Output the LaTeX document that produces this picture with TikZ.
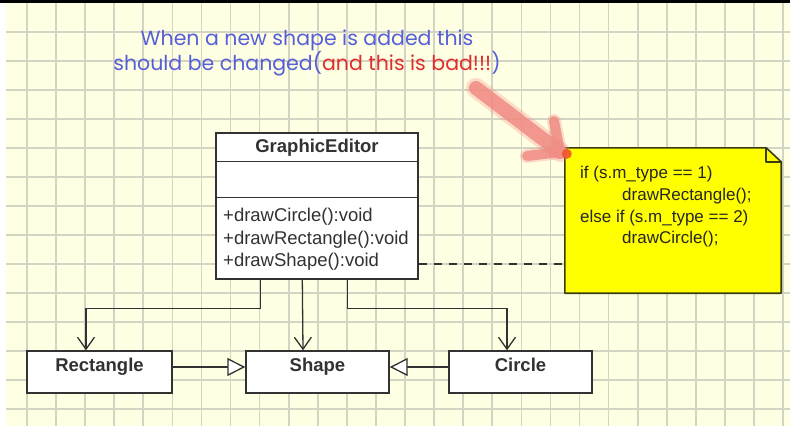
\documentclass[tikz,border=0pt]{standalone}
\usepackage{fontspec}
\setmainfont{Liberation Sans}
\newfontfamily\handfont{Poppins}
\usetikzlibrary{arrows.meta}
\definecolor{bgcol}{RGB}{255,255,228}
\definecolor{gridcol}{RGB}{212,212,196}
\definecolor{boxline}{RGB}{50,50,50}
\definecolor{noteyellow}{RGB}{255,255,0}
\definecolor{noteline}{RGB}{60,60,20}
\definecolor{txtblue}{RGB}{85,95,215}
\definecolor{txtred}{RGB}{225,45,45}
\definecolor{pinkarrow}{RGB}{240,140,132}
\definecolor{dotred}{RGB}{240,80,40}
\begin{document}
\begin{tikzpicture}[x=1pt,y=-1pt,
  gridline/.style={draw=gridcol,line width=1.7pt},
  classbox/.style={draw=boxline,fill=white,line width=1.4pt,inner sep=0pt},
  bold18/.style={font=\fontsize{18.5}{20}\selectfont\bfseries,text=boxline,inner sep=0pt,text height=13pt,text depth=4pt},
  meth/.style={font=\fontsize{18.5}{20}\selectfont,text=boxline,inner sep=0pt,anchor=west,text height=13pt,text depth=4pt},
  notetxt/.style={font=\fontsize{17}{19}\selectfont,text=black!85,inner sep=0pt,anchor=west,text height=12pt,text depth=4pt},
  dep/.style={draw=boxline,line width=1.3pt,-{Straight Barb[length=12pt,width=17pt]}},
  gen/.style={draw=boxline,line width=1.3pt,-{Triangle[length=18pt,width=18pt,fill=white]}},
  anchorline/.style={draw=boxline,line width=1.3pt,dash pattern=on 8pt off 7pt},
  pinkstroke/.style={draw=pinkarrow,line cap=round,line join=round}
]
\useasboundingbox (0,0) rectangle (790,426);
\fill[white] (0,0) rectangle (790,426);
\fill[black] (0,0) rectangle (790,2.5);
\fill[bgcol] (6,3) rectangle (790,426);
% grid
\foreach \i in {0,...,26} \draw[gridline] ({27+29.08*\i},3) -- ({27+29.08*\i},426);
\foreach \j in {0,...,13} \draw[gridline] (6,{32+29.0*\j}) -- (790,{32+29.0*\j});

% comment text
\node[font=\handfont\fontsize{20.5}{22.5}\selectfont,text=txtblue,align=center,inner sep=0pt] (cmt) at (307,53)
  {When a new shape is added this\\should be changed(\textcolor{txtred}{and this is bad!!!})};

% GraphicEditor class
\node[classbox,minimum width=202pt,minimum height=146pt] (ge) at (317,206) {};
\draw[boxline,line width=1.4pt] ([yshift=-29pt]ge.north west) -- ([yshift=-29pt]ge.north east);
\draw[boxline,line width=1.4pt] ([yshift=-65pt]ge.north west) -- ([yshift=-65pt]ge.north east);
\node[bold18] (gename) at (317,148) {GraphicEditor};
\node[meth] (m1) at (223,217) {+drawCircle():void};
\node[meth] (m2) at (223,239.5) {+drawRectangle():void};
\node[meth] (m3) at (223,262) {+drawShape():void};

% classes
\node[classbox,minimum width=145pt,minimum height=42pt] (rect) at (99.5,372) {};
\node[bold18] (rectname) at (99.5,367) {Rectangle};
\node[classbox,minimum width=143pt,minimum height=42pt] (shape) at (317.5,372) {};
\node[bold18] (shapename) at (317.5,367) {Shape};
\node[classbox,minimum width=143pt,minimum height=42pt] (circ) at (520.5,372) {};
\node[bold18] (circname) at (520.5,367) {Circle};

% dependencies
\draw[dep] ([xshift=45pt]ge.south west) -- ++(0,29) -| ([xshift=-13.5pt]rect.north);
\draw[dep] ([xshift=87pt]ge.south west) -- ([xshift=-14.5pt]shape.north);
\draw[dep] ([xshift=132pt]ge.south west) -- ++(0,29) -| ([xshift=-13.5pt]circ.north);

% generalizations
\draw[gen] ([yshift=5pt]rect.east) -- ([yshift=5pt]shape.west);
\draw[gen] ([yshift=5pt]circ.west) -- ([yshift=5pt]shape.east);

% note
\node[minimum width=216pt,minimum height=145pt,inner sep=0pt] (note) at (673,220.5) {};
\filldraw[fill=noteyellow,draw=noteline,line width=1.6pt,line join=round]
  (note.north west) -- ([xshift=-15pt]note.north east) -- ([yshift=-14pt]note.north east)
  -- (note.south east) -- (note.south west) -- cycle;
\draw[noteline,line width=1.6pt,line join=round]
  ([xshift=-15pt]note.north east) -- ([xshift=-15pt,yshift=-14pt]note.north east) -- ([yshift=-14pt]note.north east);
\node[notetxt] (n1) at (580,174) {if (s.m\_type == 1)};
\node[notetxt] (n2) at (622,196) {drawRectangle();};
\node[notetxt] (n3) at (580,218) {else if (s.m\_type == 2)};
\node[notetxt] (n4) at (622,239) {drawCircle();};

% anchor line
\coordinate (dashstart) at ([yshift=-58pt]ge.east);
\draw[anchorline] (dashstart) -- (dashstart -| note.west);

% red hand-drawn arrow
\coordinate (ta) at (476,88);
\coordinate (tb) at (560,152);
\draw[pinkstroke,line width=20pt,opacity=0.3] (ta) -- (tb);
\draw[pinkstroke,line width=14pt,opacity=0.85] (ta) -- (tb);
\draw[pinkstroke,line width=14pt,opacity=0.3] (554,121) -- (tb) -- (527,156);
\draw[pinkstroke,line width=10pt,opacity=0.85] (554,121) -- (tb) -- (527,156);
\fill[dotred,opacity=0.85] (note.north west) ++(2,6) circle (5pt);
\end{tikzpicture}
\end{document}
